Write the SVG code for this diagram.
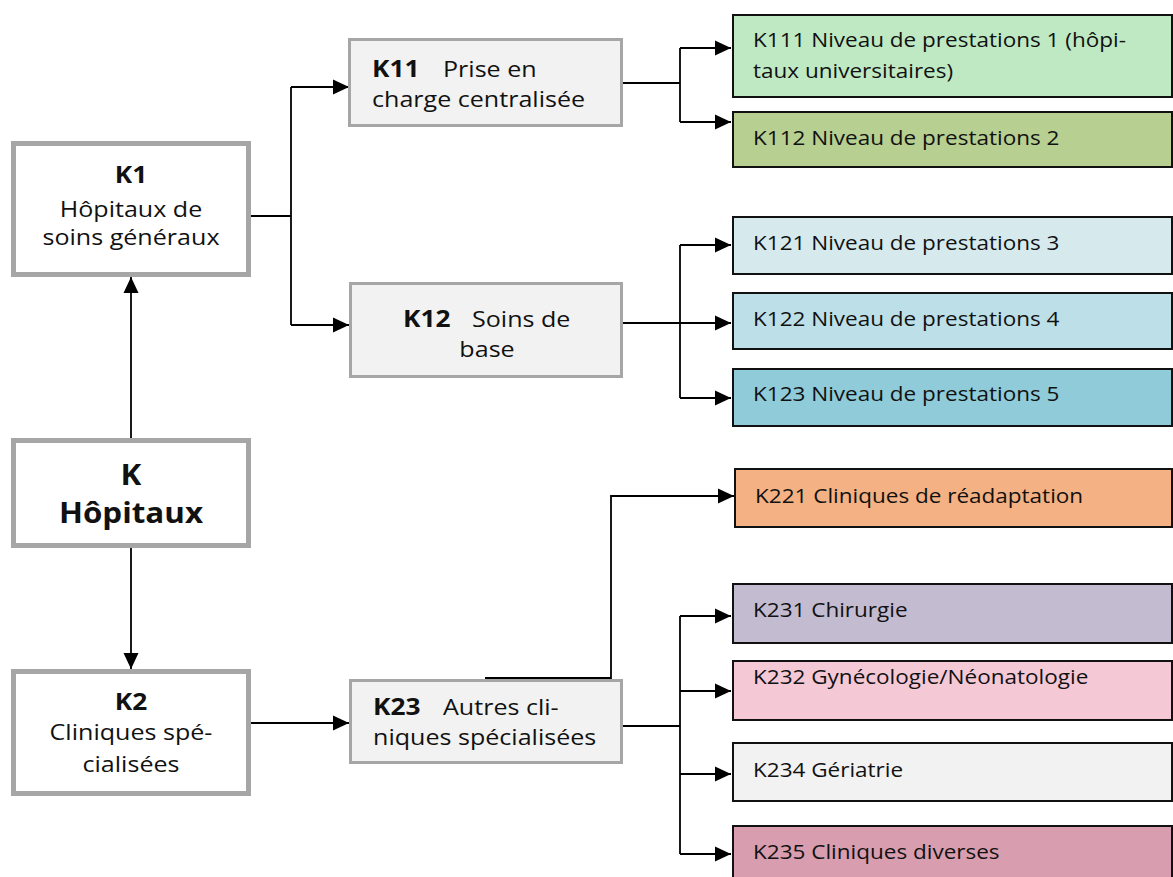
<svg xmlns="http://www.w3.org/2000/svg" width="1173" height="877" viewBox="0 0 1173 877">
<style>
text{font-family:"Open Sans","Noto Sans",sans-serif;fill:#111;}
.t{font-size:22.4px;}
.s{font-size:20.1px;}
.b{font-weight:bold;font-size:23.5px;}
.big{font-size:28px;font-weight:bold;}
.m{text-anchor:middle;}
.lb{fill:#fff;stroke:#a6a6a6;stroke-width:5;}
.mb{fill:#f2f2f2;stroke:#a6a6a6;stroke-width:3;}
.rb{stroke:#111;stroke-width:2;}
.c{fill:none;stroke:#000;stroke-width:1.8;}
</style>
<defs>
<marker id="ah" markerUnits="userSpaceOnUse" markerWidth="16" markerHeight="16" viewBox="0 0 16 16" refX="16" refY="8" orient="auto">
<path d="M0,0.5 L16,8 L0,15.5 Z" fill="#000"/>
</marker>
</defs>
<g id="connectors">
<path class="c" d="M131,438 V277" marker-end="url(#ah)"/>
<path class="c" d="M131,548 V669" marker-end="url(#ah)"/>
<path class="c" d="M251,216 H291"/>
<path class="c" d="M291,87 V325"/>
<path class="c" d="M291,87 H349" marker-end="url(#ah)"/>
<path class="c" d="M291,325 H349" marker-end="url(#ah)"/>
<path class="c" d="M623,83 H680"/>
<path class="c" d="M680,48 V122"/>
<path class="c" d="M680,48 H731" marker-end="url(#ah)"/>
<path class="c" d="M680,122 H731" marker-end="url(#ah)"/>
<path class="c" d="M623,323 H731" marker-end="url(#ah)"/>
<path class="c" d="M680,245 V398"/>
<path class="c" d="M680,245 H731" marker-end="url(#ah)"/>
<path class="c" d="M680,398 H731" marker-end="url(#ah)"/>
<path class="c" d="M251,723 H349" marker-end="url(#ah)"/>
<path class="c" d="M485,678 H611 V496 H734" marker-end="url(#ah)"/>
<path class="c" d="M623,726 H680"/>
<path class="c" d="M680,616 V854"/>
<path class="c" d="M680,616 H731" marker-end="url(#ah)"/>
<path class="c" d="M680,691 H731" marker-end="url(#ah)"/>
<path class="c" d="M680,774 H731" marker-end="url(#ah)"/>
<path class="c" d="M680,854 H731" marker-end="url(#ah)"/>
</g>
<g id="K1">
<rect class="lb" x="13.5" y="143.5" width="235" height="131"/>
<g transform="translate(131,0) scale(1.12,1)">
<text class="t b m" x="0" y="183">K1</text>
<text class="t m" x="0" y="217">Hôpitaux de</text>
<text class="t m" x="0" y="245">soins généraux</text>
</g>
</g>
<g id="K">
<rect class="lb" x="13.5" y="440.5" width="235" height="105"/>
<g transform="translate(131,0) scale(1.12,1)">
<text class="big m" x="0" y="485">K</text>
<text class="big m" x="0" y="523">Hôpitaux</text>
</g>
</g>
<g id="K2">
<rect class="lb" x="13.5" y="671.5" width="235" height="122"/>
<g transform="translate(131,0) scale(1.12,1)">
<text class="t b m" x="0" y="710">K2</text>
<text class="t m" x="0" y="740">Cliniques spé-</text>
<text class="t m" x="0" y="772">cialisées</text>
</g>
</g>
<g id="K11">
<rect class="mb" x="349.5" y="39.5" width="272" height="86"/>
<g transform="translate(372,0) scale(1.12,1)">
<text class="t b" x="0" y="77">K11</text>
<text class="t" x="63.4" y="77">Prise en</text>
<text class="t" x="0" y="107">charge centralisée</text>
</g>
</g>
<g id="K12">
<rect class="mb" x="350.5" y="283.5" width="271" height="93"/>
<g transform="translate(487,0) scale(1.12,1)">
<text class="t b" x="-75" y="327">K12</text>
<text class="t" x="-13.4" y="327">Soins de</text>
<text class="t m" x="0" y="357">base</text>
</g>
</g>
<g id="K23">
<rect class="mb" x="350.5" y="680.5" width="271" height="82"/>
<g transform="translate(373,0) scale(1.12,1)">
<text class="t b" x="0" y="715">K23</text>
<text class="t" x="62.5" y="715">Autres cli-</text>
<text class="t" x="0" y="745">niques spécialisées</text>
</g>
</g>
<g id="K111">
<rect class="rb" x="733" y="15" width="439" height="82" fill="#bfe9c3"/>
<g transform="translate(753,0) scale(1.12,1)">
<text class="s" x="0" y="47">K111 Niveau de prestations 1 (hôpi-</text>
<text class="s" x="0" y="78">taux universitaires)</text>
</g>
</g>
<g id="K112">
<rect class="rb" x="733" y="112" width="439" height="55" fill="#b7cf90"/>
<g transform="translate(753,0) scale(1.12,1)"><text class="s" x="0" y="145">K112 Niveau de prestations 2</text></g>
</g>
<g id="K121">
<rect class="rb" x="733" y="217" width="439" height="57" fill="#d6eaee"/>
<g transform="translate(753,0) scale(1.12,1)"><text class="s" x="0" y="250">K121 Niveau de prestations 3</text></g>
</g>
<g id="K122">
<rect class="rb" x="733" y="293" width="439" height="56" fill="#bde0e8"/>
<g transform="translate(753,0) scale(1.12,1)"><text class="s" x="0" y="326">K122 Niveau de prestations 4</text></g>
</g>
<g id="K123">
<rect class="rb" x="733" y="369" width="439" height="57" fill="#8fcbd8"/>
<g transform="translate(753,0) scale(1.12,1)"><text class="s" x="0" y="401">K123 Niveau de prestations 5</text></g>
</g>
<g id="K221">
<rect class="rb" x="735" y="469" width="437" height="58" fill="#f4b183"/>
<g transform="translate(755,0) scale(1.12,1)"><text class="s" x="0" y="503">K221 Cliniques de réadaptation</text></g>
</g>
<g id="K231">
<rect class="rb" x="733" y="584" width="439" height="59" fill="#c3bbd0"/>
<g transform="translate(753,0) scale(1.12,1)"><text class="s" x="0" y="617">K231 Chirurgie</text></g>
</g>
<g id="K232">
<rect class="rb" x="733" y="661" width="439" height="59" fill="#f5c8d6"/>
<g transform="translate(753,0) scale(1.12,1)"><text class="s" x="0" y="684">K232 Gynécologie/Néonatologie</text></g>
</g>
<g id="K234">
<rect class="rb" x="733" y="743" width="439" height="58" fill="#f2f2f2"/>
<g transform="translate(753,0) scale(1.12,1)"><text class="s" x="0" y="777">K234 Gériatrie</text></g>
</g>
<g id="K235">
<rect class="rb" x="733" y="826" width="439" height="60" fill="#d89dae"/>
<g transform="translate(753,0) scale(1.12,1)"><text class="s" x="0" y="859">K235 Cliniques diverses</text></g>
</g>
</svg>
